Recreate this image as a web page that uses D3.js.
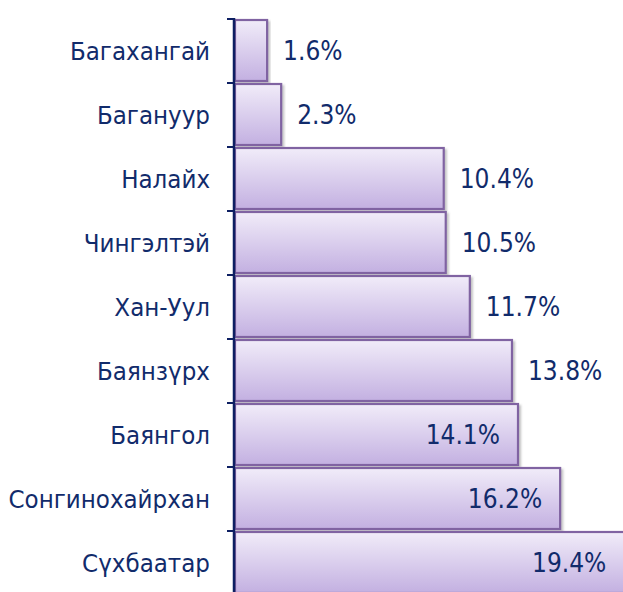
<!DOCTYPE html>
<html>
<head>
<meta charset="utf-8">
<script src="https://cdn.jsdelivr.net/npm/d3@7"></script>
<style>
  body { margin: 0; background: #fff; }
  svg text { font-family: "DejaVu Sans Condensed", "DejaVu Sans", sans-serif; font-stretch: condensed; fill: #112b6b; }
</style>
</head>
<body>
<svg id="chart" width="623" height="592"></svg>
<script>
// districts, top to bottom
const districts = ["Багахангай", "Багануур", "Налайх", "Чингэлтэй", "Хан-Уул", "Баянзүрх", "Баянгол", "Сонгинохайрхан", "Сүхбаатар"];
const shares = [1.6, 2.3, 10.4, 10.5, 11.7, 13.8, 14.1, 16.2, 19.4];

const svg = d3.select("#chart");
const marginLeft = 235, marginTop = 19, step = 64;

const x = d3.scaleLinear().domain([0, 20]).range([marginLeft, marginLeft + 20 * 20.07]);
const y = d3.scaleBand().domain(districts).range([marginTop, marginTop + step * districts.length]).padding(0);

const defs = svg.append("defs");
const grad = defs.append("linearGradient").attr("id", "barGrad")
  .attr("x1", 0).attr("y1", 0).attr("x2", 0).attr("y2", 1);
grad.append("stop").attr("offset", "0%").attr("stop-color", "#f1ecf9");
grad.append("stop").attr("offset", "100%").attr("stop-color", "#c3b0e1");

const shadow = defs.append("filter").attr("id", "shadow")
  .attr("x", "-5%").attr("y", "-10%").attr("width", "115%").attr("height", "130%");
shadow.append("feDropShadow").attr("dx", 2).attr("dy", 2).attr("stdDeviation", 1)
  .attr("flood-color", "#555").attr("flood-opacity", 0.35);

svg.append("g").selectAll("rect")
  .data(shares)
  .join("rect")
  .attr("x", x(0))
  .attr("y", (d, i) => y(districts[i]) + 1)
  .attr("width", d => x(d) - x(0))
  .attr("height", y.bandwidth() - 3)
  .attr("fill", "url(#barGrad)")
  .attr("stroke", "#8064a2")
  .attr("stroke-width", 2.2)
  .attr("filter", "url(#shadow)");

// value labels: outside the end for shorter bars, inside for longer
svg.append("g").selectAll("text")
  .data(shares)
  .join("text")
  .attr("x", d => d >= 14 ? x(d) - 18 : x(d) + 16)
  .attr("y", (d, i) => y(districts[i]) + y.bandwidth() / 2)
  .attr("dy", "0.36em")
  .attr("text-anchor", d => d >= 14 ? "end" : "start")
  .attr("font-size", 26)
  .text(d => d.toFixed(1) + "%");

const axis = d3.axisLeft(y).tickSize(0).tickPadding(24);
const gAxis = svg.append("g").attr("transform", `translate(${marginLeft - 1},0)`).call(axis);
gAxis.select(".domain").attr("stroke", "#0d1f62").attr("stroke-width", 2.5)
  .attr("d", `M0,${marginTop - 1}V${marginTop + step * districts.length}`);
gAxis.selectAll(".tick text").attr("font-size", 25.6).attr("fill", "#112b6b")
  .attr("font-family", null).attr("dy", "0.36em");

// ticks between categories
gAxis.append("g").selectAll("line")
  .data(d3.range(districts.length))
  .join("line")
  .attr("x1", -7).attr("x2", 0)
  .attr("y1", i => marginTop + i * step).attr("y2", i => marginTop + i * step)
  .attr("stroke", "#0d1f62").attr("stroke-width", 2);
</script>
</body>
</html>
